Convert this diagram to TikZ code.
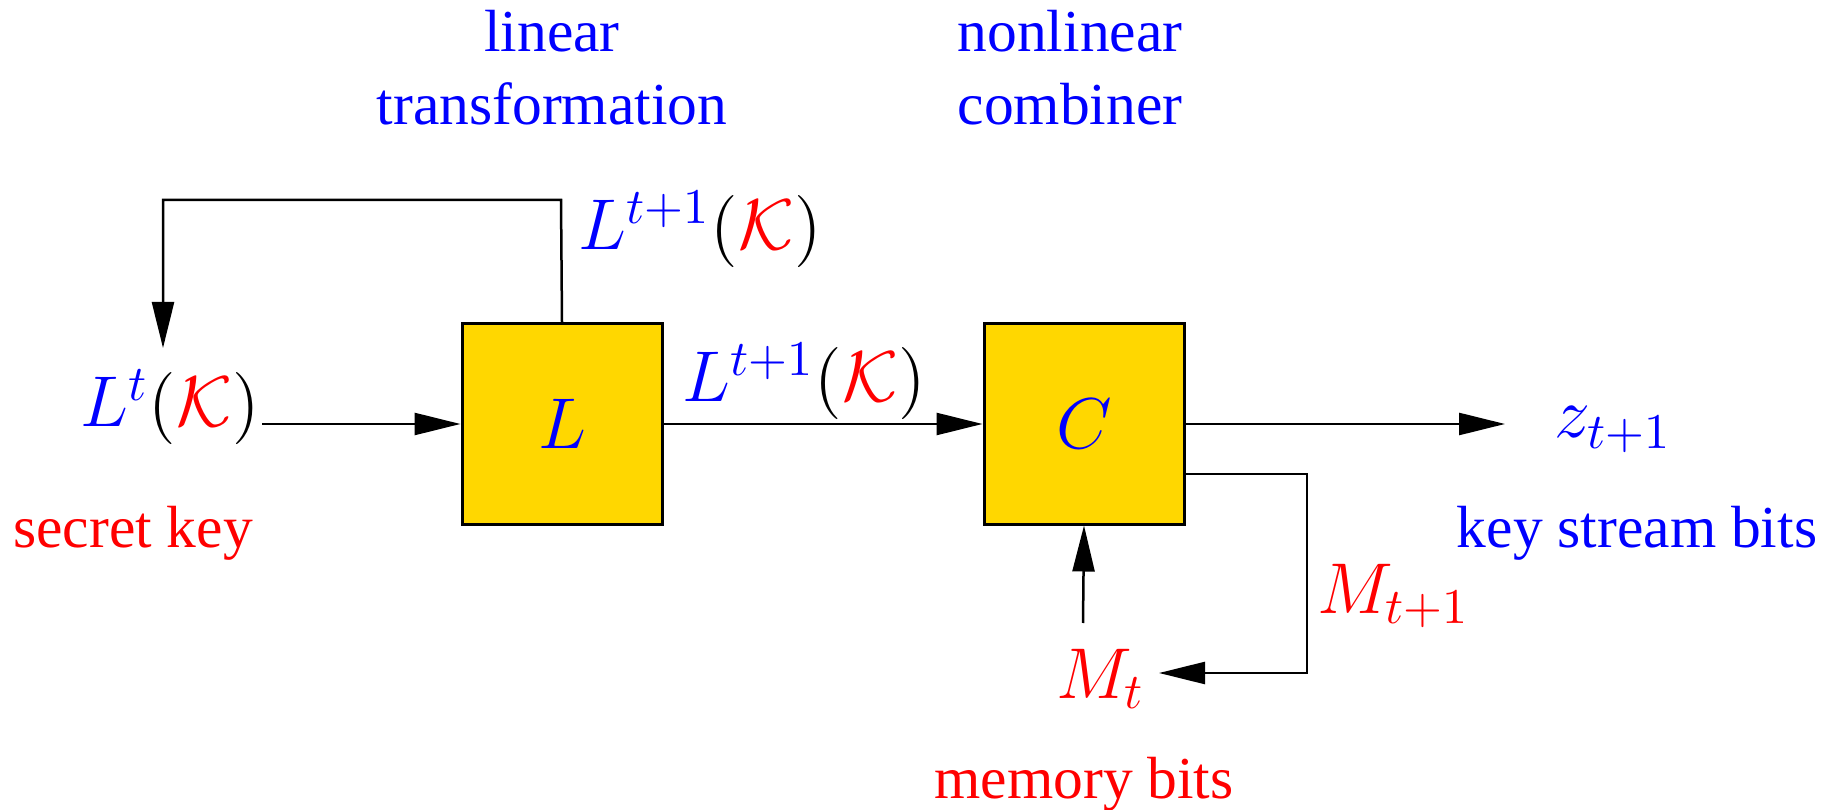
\documentclass[tikz,border=0pt]{standalone}
\usepackage{fontspec}
\setmainfont{Liberation Serif}
\usetikzlibrary{arrows.meta}
\definecolor{boxyellow}{RGB}{255,215,0}
\begin{document}
\begin{tikzpicture}[x=0.2pt,y=-0.2pt,
  every node/.style={font=\fontsize{11.9}{14.6}\selectfont},
  mathsz/.style={font=\fontsize{14.2}{17}\selectfont},
  blockbox/.style={draw=black,line width=0.6pt,fill=boxyellow,minimum width=40pt,minimum height=40pt,inner sep=0pt,mathsz},
  lbl/.style={anchor=base,inner sep=0pt},
  mlbl/.style={lbl,mathsz},
  conn/.style={line width=0.5pt},
  arr/.style={conn,-{Triangle[length=9.2pt,width=4.4pt]}}]
\useasboundingbox (0,0) rectangle (1837,810);
% boxes
\node[blockbox] (L) at (562,424) {$\color{blue}L$};
\node[blockbox] (C) at (1084,424) {$\color{blue}C$};
% labels
\node[lbl,text=blue] (lt1) at (552,52) {linear};
\node[lbl,text=blue] (lt2) at (552,125) {transformation};
\node[lbl,text=blue] (nc1) at (1070,52) {nonlinear};
\node[lbl,text=blue] (nc2) at (1070,125) {combiner};
\node[mlbl] (Lt) at (170,427) {${\color{blue}L^t}({\color{red}\mathcal{K}})$};
\node[lbl,text=red] (sk) at (133,548) {secret key};
\node[mlbl] (Ltop) at (700,250) {${\color{blue}L^{t+1}}({\color{red}\mathcal{K}})$};
\node[mlbl] (Lmid) at (804,402) {${\color{blue}L^{t+1}}({\color{red}\mathcal{K}})$};
\node[mlbl] (z) at (1613,438) {$\color{blue}z_{t+1}$};
\node[lbl,text=blue] (ksb) at (1637,548) {key stream bits};
\node[mlbl] (Mt1) at (1394,613) {$\color{red}M_{t+1}$};
\node[mlbl] (Mt) at (1101,698) {$\color{red}M_t$};
\node[lbl,text=red] (mb) at (1084,798) {memory bits};
% coordinates
\coordinate (fbEnd) at (163,348);
\coordinate (inStart) at (262,424);
\coordinate (zEnd) at (1505,424);
\coordinate (CoutB) at (1183,474);
\coordinate (fbR) at (1307,474);
\coordinate (MtEnd) at (1159,673);
\coordinate (MtStart) at (1083,623);
% connectors
\draw[arr] (L.north) -- (561,200) -| (fbEnd);
\draw[arr] (inStart) -- (L.west);
\draw[arr] (L.east) -- (C.west);
\draw[arr] (C.east) -- (zEnd);
\draw[arr] (CoutB) -- (fbR) |- (MtEnd);
\draw[arr] (MtStart) -- (C.south);
\end{tikzpicture}
\end{document}
